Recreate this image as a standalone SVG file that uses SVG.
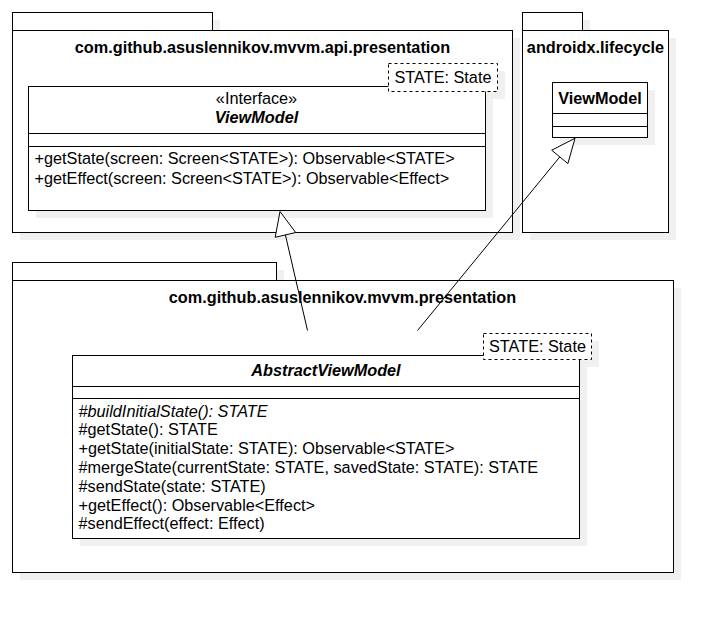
<svg xmlns="http://www.w3.org/2000/svg" width="722" height="622" viewBox="0 0 722 622">
<style>
.sh{fill:#f0f0f0;stroke:none}
.box{fill:#fff;stroke:#000;stroke-width:1}
.dash{fill:#fff;stroke:#000;stroke-width:1;stroke-dasharray:3 3}
.ln{stroke:#000;stroke-width:1}
.t{font-family:"Liberation Sans",Arial,Helvetica,sans-serif;font-size:16.25px;fill:#000}
.b{font-weight:bold}
.i{font-style:italic}
.c{text-anchor:middle}
.edge{fill:none;stroke:#000;stroke-width:1}
.head{fill:#fff;stroke:#000;stroke-width:1}
</style>
<rect x="0" y="0" width="722" height="622" fill="#fff"/>

<g id="pkg-api-presentation">
  <rect class="sh" x="20" y="20" width="200" height="18"/>
  <rect class="sh" x="20" y="38" width="500" height="202"/>
  <rect class="box" x="12.5" y="12.5" width="200" height="18"/>
  <rect class="box" x="12.5" y="30.5" width="500" height="202"/>
  <text class="t b c" x="262.5" y="53">com.github.asuslennikov.mvvm.api.presentation</text>
</g>

<g id="pkg-androidx-lifecycle">
  <rect class="sh" x="530" y="20" width="60" height="18"/>
  <rect class="sh" x="530" y="38" width="146" height="202"/>
  <rect class="box" x="522.5" y="12.5" width="60" height="18"/>
  <rect class="box" x="522.5" y="30.5" width="146" height="202"/>
  <text class="t b c" x="595.5" y="53">androidx.lifecycle</text>
</g>

<g id="pkg-presentation">
  <rect class="sh" x="20" y="270" width="264" height="18"/>
  <rect class="sh" x="20" y="288" width="661" height="292"/>
  <rect class="box" x="12.5" y="262.5" width="264" height="18"/>
  <rect class="box" x="12.5" y="280.5" width="661" height="292"/>
  <text class="t b c" x="342.5" y="303">com.github.asuslennikov.mvvm.presentation</text>
</g>

<g id="iface-viewmodel">
  <rect class="sh" x="36" y="94" width="457" height="124"/>
  <rect class="sh" x="396" y="71" width="109" height="28"/>
  <rect class="box" x="28.5" y="86.5" width="457" height="124"/>
  <line class="ln" x1="28.5" y1="133.5" x2="485.5" y2="133.5"/>
  <line class="ln" x1="28.5" y1="146.5" x2="485.5" y2="146.5"/>
  <text class="t c" x="256.5" y="104">«Interface»</text>
  <text class="t b i c" x="256.5" y="123">ViewModel</text>
  <text class="t" x="34.5" y="164">+getState(screen: Screen&lt;STATE&gt;): Observable&lt;STATE&gt;</text>
  <text class="t" x="34.5" y="184">+getEffect(screen: Screen&lt;STATE&gt;): Observable&lt;Effect&gt;</text>
  <rect class="dash" x="388.5" y="63.5" width="109" height="28"/>
  <text class="t c" x="443" y="83">STATE: State</text>
</g>

<g id="androidx-viewmodel">
  <rect class="sh" x="560" y="90" width="95" height="55"/>
  <rect class="box" x="552.5" y="82.5" width="95" height="55"/>
  <line class="ln" x1="552.5" y1="113.5" x2="647.5" y2="113.5"/>
  <line class="ln" x1="552.5" y1="126.5" x2="647.5" y2="126.5"/>
  <text class="t b c" x="600" y="104">ViewModel</text>
</g>

<g id="abstract-viewmodel">
  <rect class="sh" x="80" y="363" width="507" height="183"/>
  <rect class="sh" x="491" y="341" width="108" height="26"/>
  <rect class="box" x="72.5" y="355.5" width="507" height="183"/>
  <line class="ln" x1="72.5" y1="386.5" x2="579.5" y2="386.5"/>
  <line class="ln" x1="72.5" y1="398.5" x2="579.5" y2="398.5"/>
  <text class="t b i c" x="326" y="376">AbstractViewModel</text>
  <text class="t i" x="78.5" y="416.5">#buildInitialState(): STATE</text>
  <text class="t" x="78.5" y="435.3">#getState(): STATE</text>
  <text class="t" x="78.5" y="454.1">+getState(initialState: STATE): Observable&lt;STATE&gt;</text>
  <text class="t" x="78.5" y="472.9">#mergeState(currentState: STATE, savedState: STATE): STATE</text>
  <text class="t" x="78.5" y="491.7">#sendState(state: STATE)</text>
  <text class="t" x="78.5" y="510.5">+getEffect(): Observable&lt;Effect&gt;</text>
  <text class="t" x="78.5" y="529.3">#sendEffect(effect: Effect)</text>
  <rect class="dash" x="483.5" y="333.5" width="108" height="26"/>
  <text class="t c" x="537.5" y="352">STATE: State</text>
</g>

<g id="connectors">
  <line class="edge" x1="307.5" y1="330.5" x2="285.4" y2="234.9"/>
  <polygon class="head" points="280,211.5 295.7,232.5 275.2,237.3"/>
  <line class="edge" x1="417.5" y1="330.5" x2="559.8" y2="156.9"/>
  <polygon class="head" points="575,138.3 567.9,163.6 551.7,150.2"/>
</g>
</svg>
